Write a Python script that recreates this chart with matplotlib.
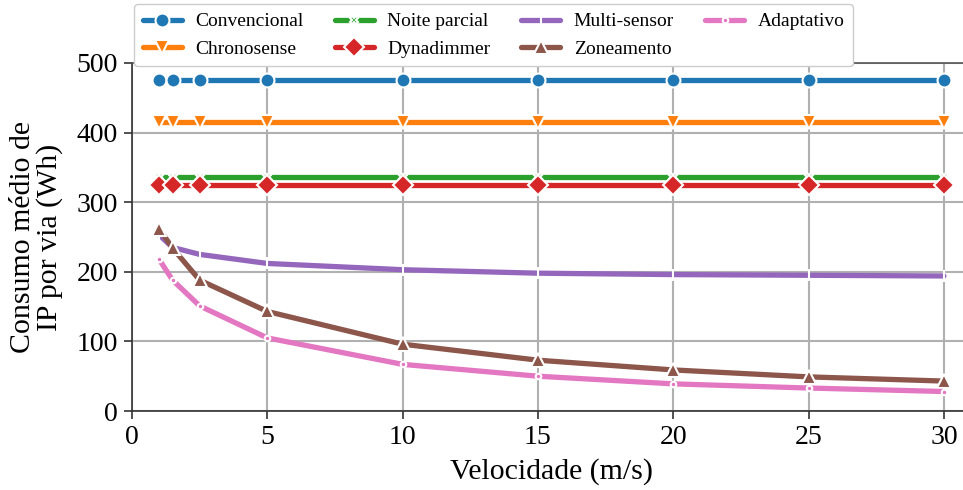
import matplotlib
matplotlib.use("Agg")
import matplotlib.pyplot as plt

velocidade = [1, 1.5, 2.5, 5, 10, 15, 20, 25, 30]

convencional = [475, 475, 475, 475, 475, 475, 475, 475, 475]
chronosense = [415, 415, 415, 415, 415, 415, 415, 415, 415]
noite_parcial = [336, 336, 336, 336, 336, 336, 336, 336, 336]
dynadimmer = [325, 325, 325, 325, 325, 325, 325, 325, 325]
multi_sensor = [253, 235, 225, 212, 203, 198, 196, 195, 194]
zoneamento = [262, 234, 188, 143, 96, 73, 59, 49, 43]
adaptativo = [218, 188, 151, 105, 67, 50, 39, 33, 28]

series = [
    ("Convencional", convencional, "#1f77b4", "o", 10),
    ("Chronosense", chronosense, "#ff7f0e", "v", 10),
    ("Noite parcial", noite_parcial, "#2ca02c", "X", 6),
    ("Dynadimmer", dynadimmer, "#d62728", "D", 10),
    ("Multi-sensor", multi_sensor, "#9467bd", "|", 8),
    ("Zoneamento", zoneamento, "#8c564b", "^", 10),
    ("Adaptativo", adaptativo, "#e377c2", ".", 8),
]

plt.rcParams["font.family"] = ["Liberation Serif", "DejaVu Serif"]

fig = plt.figure(figsize=(9.63, 4.90), dpi=100)
ax = fig.add_axes([132 / 963, 79 / 490, 839 / 963, 348 / 490])

for name, vals, color, marker, ms in series:
    ax.plot(velocidade, vals, color=color, lw=3.8, marker=marker,
            markersize=ms, markeredgecolor="white", markeredgewidth=1.5,
            solid_capstyle="round", label=name, zorder=3)

ax.set_xlim(0, 31)
ax.set_ylim(0, 500)
ax.set_xticks([0, 5, 10, 15, 20, 25, 30])
ax.set_yticks([0, 100, 200, 300, 400, 500])
ax.grid(True, color="#b0b0b0", lw=1.5, zorder=0)
ax.set_axisbelow(True)

for side in ("left", "bottom"):
    ax.spines[side].set_color("#333333")
    ax.spines[side].set_linewidth(1.2)
ax.spines["top"].set_color("#555555")
ax.spines["top"].set_linewidth(1.2)
ax.spines["right"].set_visible(False)

ax.tick_params(axis="both", labelsize=20, length=6, width=1.2,
               color="#333333", direction="out", pad=4)
ax.set_xlabel("Velocidade (m/s)", fontsize=21.5, labelpad=6)
ax.set_ylabel("Consumo médio de\nIP por via (Wh)", fontsize=21.5,
              linespacing=1.0, labelpad=10)

leg = fig.legend(loc="upper left", bbox_to_anchor=(134 / 963, 1 - 4 / 490),
                 borderaxespad=0, ncol=4, fontsize=14, frameon=True,
                 fancybox=True, edgecolor="#cccccc", framealpha=1.0,
                 handlelength=2.0, columnspacing=1.6, handletextpad=0.7,
                 borderpad=0.45, labelspacing=0.5)

fig.savefig("out.png", dpi=100)
